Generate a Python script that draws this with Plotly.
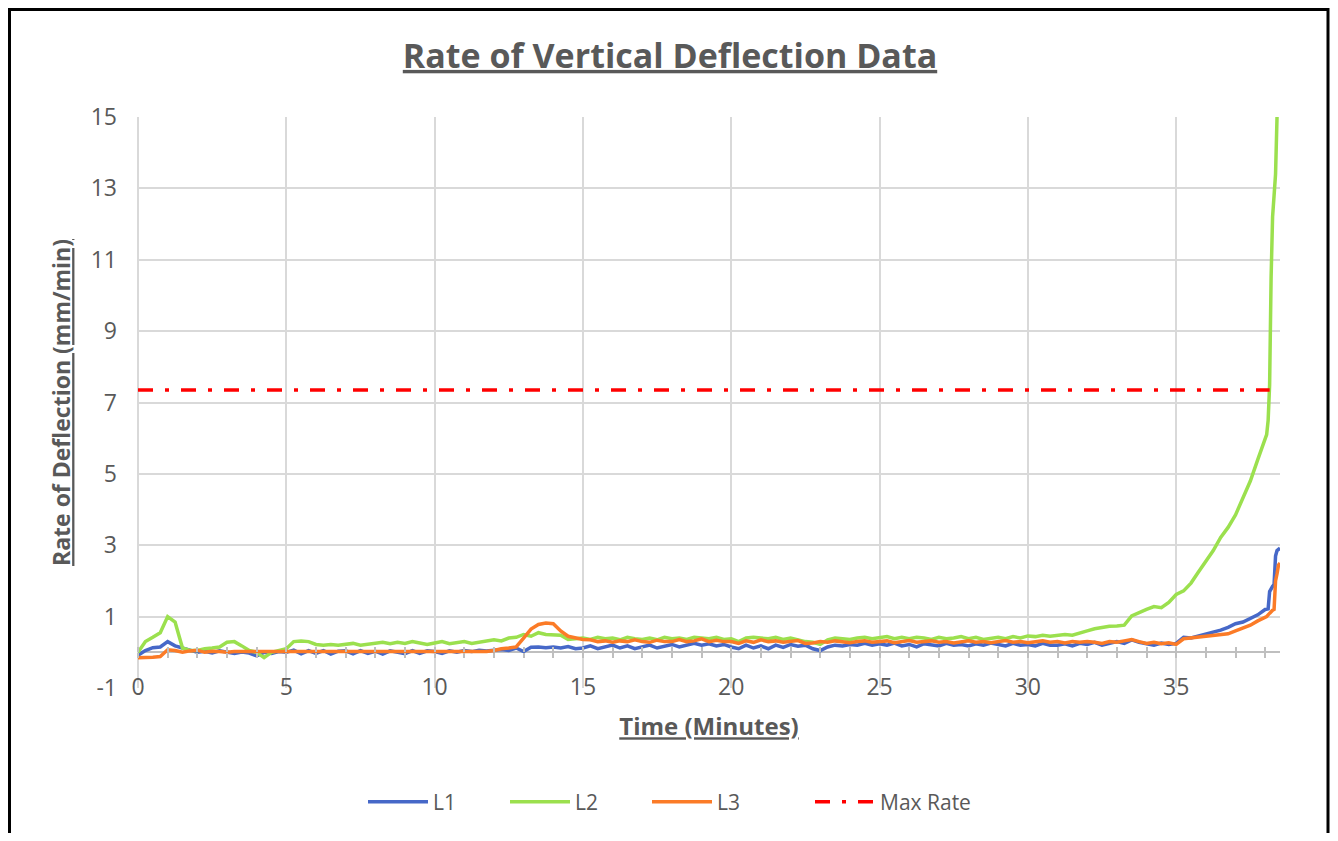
import plotly.graph_objects as go

# time axis: every 15 s up to 38 min, then the fast-moving tail
time_base = [i * 0.25 for i in range(153)]
time_tail = [38.05, 38.1, 38.15, 38.2, 38.25, 38.3, 38.35, 38.4, 38.45, 38.5]
time_min = time_base + time_tail

l1 = [
    -0.08, 0.05, 0.13, 0.15,   # 0
    0.30, 0.18, 0.12, 0.05,    # 1
    0.00, 0.03, -0.02, 0.04,   # 2
    0.00, -0.03, 0.01, -0.02,  # 3
    -0.10, 0.00, -0.03, 0.02,  # 4
    0.00, 0.06, -0.04, 0.05,   # 5
    -0.03, 0.05, -0.05, 0.03,  # 6
    0.04, -0.04, 0.05, -0.03,  # 7
    0.03, -0.05, 0.04, 0.00,   # 8
    -0.04, 0.05, -0.03, 0.04,  # 9
    0.02, -0.03, 0.04, 0.00,   # 10
    0.05, 0.02, 0.06, 0.04,    # 11
    0.06, 0.08, 0.05, 0.12,    # 12
    0.02, 0.14, 0.15, 0.13,    # 13
    0.15, 0.12, 0.16, 0.10,    # 14
    0.12, 0.18, 0.10, 0.15,    # 15
    0.20, 0.12, 0.18, 0.10,    # 16
    0.16, 0.20, 0.12, 0.18,    # 17
    0.22, 0.15, 0.20, 0.25,    # 18
    0.20, 0.24, 0.18, 0.22,    # 19
    0.15, 0.10, 0.20, 0.12,    # 20
    0.18, 0.10, 0.20, 0.14,    # 21
    0.22, 0.17, 0.20, 0.10,    # 22
    0.05, 0.15, 0.20, 0.18,    # 23
    0.22, 0.20, 0.25, 0.20,    # 24
    0.24, 0.20, 0.26, 0.18,    # 25
    0.22, 0.15, 0.24, 0.20,    # 26
    0.18, 0.25, 0.20, 0.22,    # 27
    0.18, 0.24, 0.20, 0.26,    # 28
    0.22, 0.18, 0.25, 0.20,    # 29
    0.22, 0.18, 0.25, 0.20,    # 30
    0.20, 0.24, 0.18, 0.25,    # 31
    0.22, 0.28, 0.20, 0.25,    # 32
    0.30, 0.25, 0.35, 0.28,    # 33
    0.24, 0.20, 0.26, 0.22,    # 34
    0.25, 0.42, 0.40, 0.45,    # 35
    0.50, 0.55, 0.62, 0.70,    # 36
    0.80, 0.85, 0.95, 1.05,    # 37
    1.20,                      # 38
    1.20, 1.22, 1.70, 1.80, 1.85, 1.90, 2.70, 2.85, 2.90, 2.92,
]

l2 = [
    0.00, 0.30, 0.42, 0.55,    # 0
    1.00, 0.85, 0.12, 0.05,    # 1
    0.05, 0.10, 0.12, 0.15,    # 2
    0.28, 0.30, 0.18, 0.05,    # 3
    0.00, -0.15, 0.00, 0.05,   # 4
    0.10, 0.30, 0.32, 0.30,    # 5
    0.22, 0.20, 0.22, 0.20,    # 6
    0.22, 0.25, 0.20, 0.22,    # 7
    0.25, 0.28, 0.24, 0.28,    # 8
    0.25, 0.30, 0.26, 0.22,    # 9
    0.26, 0.30, 0.24, 0.27,    # 10
    0.30, 0.25, 0.28, 0.30,    # 11
    0.35, 0.32, 0.40, 0.42,    # 12
    0.50, 0.45, 0.55, 0.50,    # 13
    0.50, 0.48, 0.36, 0.38,    # 14
    0.40, 0.36, 0.42, 0.38,    # 15
    0.40, 0.35, 0.42, 0.38,    # 16
    0.36, 0.40, 0.35, 0.42,    # 17
    0.38, 0.40, 0.36, 0.42,    # 18
    0.40, 0.38, 0.42, 0.36,    # 19
    0.38, 0.30, 0.40, 0.42,    # 20
    0.40, 0.38, 0.42, 0.36,    # 21
    0.40, 0.35, 0.30, 0.28,    # 22
    0.22, 0.35, 0.40, 0.38,    # 23
    0.36, 0.40, 0.42, 0.38,    # 24
    0.40, 0.44, 0.38, 0.42,    # 25
    0.38, 0.42, 0.40, 0.36,    # 26
    0.42, 0.38, 0.40, 0.44,    # 27
    0.38, 0.42, 0.36, 0.40,    # 28
    0.42, 0.38, 0.44, 0.40,    # 29
    0.46, 0.44, 0.48, 0.45,    # 30
    0.48, 0.50, 0.48, 0.55,    # 31
    0.60, 0.66, 0.70, 0.73,    # 32
    0.74, 0.76, 1.02, 1.12,    # 33
    1.20, 1.28, 1.25, 1.40,    # 34
    1.62, 1.72, 1.94, 2.25,    # 35
    2.55, 2.85, 3.22, 3.50,    # 36
    3.85, 4.30, 4.80, 5.40,    # 37
    5.95,                      # 38
    6.10, 6.50, 7.50, 10.5, 12.2, 12.8, 13.4, 15.0, 17.0, 19.0,
]

l3 = [
    -0.15, -0.15, -0.14, -0.12,  # 0
    0.07, 0.05, 0.00, 0.04,      # 1
    0.06, 0.00, 0.03, 0.02,      # 2
    0.00, 0.02, 0.02, 0.02,      # 3
    0.02, 0.02, 0.02, 0.02,      # 4
    0.02, 0.02, 0.03, 0.02,      # 5
    0.02, 0.02, 0.02, 0.03,      # 6
    0.02, 0.02, 0.02, 0.02,      # 7
    0.03, 0.02, 0.02, 0.02,      # 8
    0.02, 0.02, 0.03, 0.02,      # 9
    0.02, 0.02, 0.02, 0.02,      # 10
    0.02, 0.03, 0.02, 0.02,      # 11
    0.05, 0.10, 0.12, 0.15,      # 12
    0.40, 0.65, 0.78, 0.82,      # 13
    0.80, 0.60, 0.45, 0.40,      # 14
    0.36, 0.35, 0.30, 0.32,      # 15
    0.28, 0.32, 0.30, 0.35,      # 16
    0.30, 0.28, 0.34, 0.30,      # 17
    0.30, 0.36, 0.30, 0.32,      # 18
    0.38, 0.30, 0.34, 0.30,      # 19
    0.30, 0.25, 0.32, 0.28,      # 20
    0.35, 0.30, 0.32, 0.28,      # 21
    0.30, 0.33, 0.25, 0.26,      # 22
    0.30, 0.28, 0.32, 0.30,      # 23
    0.27, 0.30, 0.32, 0.28,      # 24
    0.30, 0.32, 0.27, 0.30,      # 25
    0.33, 0.28, 0.30, 0.32,      # 26
    0.28, 0.30, 0.26, 0.30,      # 27
    0.32, 0.28, 0.30, 0.27,      # 28
    0.30, 0.33, 0.28, 0.30,      # 29
    0.27, 0.30, 0.32, 0.28,      # 30
    0.30, 0.26, 0.30, 0.28,      # 31
    0.30, 0.28, 0.25, 0.30,      # 32
    0.28, 0.32, 0.36, 0.30,      # 33
    0.25, 0.28, 0.24, 0.27,      # 34
    0.22, 0.38, 0.40, 0.42,      # 35
    0.45, 0.47, 0.50, 0.52,      # 36
    0.60, 0.68, 0.76, 0.88,      # 37
    0.97,                        # 38
    1.00, 1.05, 1.10, 1.15, 1.18, 1.20, 2.00, 2.20, 2.45, 2.50,
]

max_rate_t = [0, 38.15]
max_rate = 7.35

x_ticks = [0, 5, 10, 15, 20, 25, 30, 35]
y_ticks = [-1, 1, 3, 5, 7, 9, 11, 13, 15]
y_tick_text = ["-1", "1", "3", "5", "7", "9", "11", "13", "15"]

GRID = "#d9d9d9"
TEXT = "#595959"
FONT = "'Open Sans', sans-serif"

# page is drawn with an 8px body margin, so the figure is sized to fit inside it
W, H = 1322, 825
L, R, T, B = 130, 50, 109, 145
PW, PH = W - L - R, H - T - B

fig = go.Figure()
fig.add_trace(go.Scatter(x=time_min, y=l1, mode="lines", name="L1",
                         line=dict(color="#4668C8", width=3.5)))
fig.add_trace(go.Scatter(x=time_min, y=l2, mode="lines", name="L2",
                         line=dict(color="#9BE04E", width=3.5)))
fig.add_trace(go.Scatter(x=time_min, y=l3, mode="lines", name="L3",
                         line=dict(color="#FB7B27", width=3.5)))
fig.add_trace(go.Scatter(x=max_rate_t, y=[max_rate] * len(max_rate_t), mode="lines",
                         name="Max Rate", legend="legend2",
                         line=dict(color="#FF0000", width=3.5, dash="15px,12px,4px,12px")))
# empty traces so the minor-tick axes at y=0 get drawn
fig.add_trace(go.Scatter(x=[], y=[], xaxis="x2", showlegend=False, hoverinfo="skip"))
fig.add_trace(go.Scatter(x=[], y=[], xaxis="x3", showlegend=False, hoverinfo="skip"))

tick_axis = dict(overlaying="x", range=[0, 38.5], anchor="free", position=1 / 16,
                 ticks="outside", ticklen=5, tickwidth=1.5, tickcolor="#bfbfbf",
                 tick0=0, dtick=1, showticklabels=False, showgrid=False,
                 zeroline=False, showline=False)

legend_base = dict(orientation="h", xref="container", xanchor="left",
                   y=1 - 794 / H, yref="container", yanchor="middle",
                   font=dict(size=21, color=TEXT), itemwidth=60,
                   bgcolor="rgba(0,0,0,0)")

fig.update_layout(
    width=W, height=H,
    paper_bgcolor="white", plot_bgcolor="white",
    font=dict(family=FONT, color=TEXT),
    margin=dict(l=L, r=R, t=T, b=B),
    title=dict(text="<b>Rate of Vertical Deflection Data</b>",
               font=dict(size=34, color=TEXT, lineposition="under"),
               x=662 / W, xref="container", xanchor="center",
               y=1 - 48 / H, yref="container", yanchor="middle"),
    xaxis=dict(range=[0, 38.5], tickvals=x_ticks, showgrid=True, gridcolor=GRID,
               gridwidth=1.5, zeroline=True, zerolinecolor=GRID, zerolinewidth=1.5,
               showline=False, ticks="", ticklabelstandoff=-17,
               tickfont=dict(size=23, color=TEXT),
               title=dict(text="<b>Time (Minutes)</b>", standoff=17,
                          font=dict(size=24, color=TEXT, lineposition="under"))),
    xaxis2=dict(side="bottom", **tick_axis),
    xaxis3=dict(side="top", **tick_axis),
    yaxis=dict(range=[-1, 15], tickvals=y_ticks, ticktext=y_tick_text,
               showgrid=True, gridcolor=GRID,
               gridwidth=1.5, zeroline=True, zerolinecolor="#bfbfbf", zerolinewidth=2,
               showline=False, ticks="", ticklabelstandoff=20,
               tickfont=dict(size=23, color=TEXT),
               title=dict(text="<b>Rate of Deflection (mm/min)</b>", standoff=13,
                          font=dict(size=23, color=TEXT, lineposition="under"))),
    legend=dict(x=(373 - 8 - 10) / W, entrywidth=67, **legend_base),
    legend2=dict(x=(787 - 8 - 10 + 33) / W, **legend_base),
    shapes=[dict(type="rect", xref="paper", yref="paper",
                 x0=(1.5 - L) / PW, x1=(W - 2 - L) / PW,
                 y0=-0.31, y1=(PH + T - 1.5) / PH,
                 line=dict(color="black", width=3), fillcolor="rgba(0,0,0,0)",
                 layer="below")],
    showlegend=True,
)

fig.write_html("out.html")
